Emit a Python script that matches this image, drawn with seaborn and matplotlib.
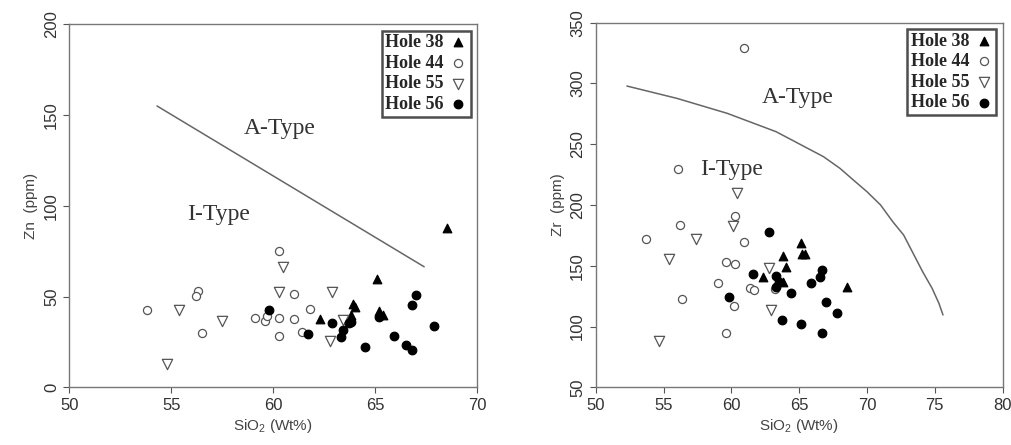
import pandas as pd
import matplotlib.pyplot as plt
import seaborn as sns

# Zn vs SiO2 (left) data
h38_si_zn = [62.3, 63.8, 63.9, 64.0, 65.1, 65.2, 65.4, 68.5]
h38_zn = [37.8, 40.0, 46.0, 44.0, 59.5, 42.0, 40.0, 87.6]
h44_si_zn = [53.8, 56.3, 56.2, 56.5, 59.1, 59.6, 59.7, 60.3, 60.3, 61.0, 61.0, 61.8, 60.3, 61.4]
h44_zn = [42.4, 53.2, 50.1, 30.1, 38.3, 36.7, 39.5, 75.1, 38.3, 51.2, 37.5, 43.3, 28.3, 30.3]
h55_si_zn = [54.8, 55.4, 57.5, 60.5, 60.3, 62.9, 62.8, 63.4]
h55_zn = [12.8, 42.6, 36.5, 66.4, 52.7, 52.7, 25.5, 37.1]
h56_si_zn = [59.8, 61.7, 62.9, 63.4, 63.3, 63.8, 64.5, 65.2, 65.9, 66.5, 66.8, 66.8, 67.0, 67.9, 63.7]
h56_zn = [42.4, 29.2, 35.3, 31.6, 27.5, 36.1, 22.4, 38.6, 28.3, 23.3, 20.6, 45.2, 50.9, 33.6, 35.6]

# Zr vs SiO2 (right) data
h38_si_zr = [62.3, 63.8, 63.8, 64.0, 65.1, 65.2, 65.4, 68.5]
h38_zr = [141.0, 158.0, 137.0, 149.0, 169.0, 159.4, 159.4, 132.3]
h44_si_zr = [56.1, 56.2, 53.7, 60.3, 60.9, 59.6, 60.3, 59.0, 61.4, 61.7, 63.2, 56.4, 60.2, 59.6, 60.9]
h44_zr = [229.6, 183.3, 172.0, 190.7, 169.3, 153.3, 151.7, 135.5, 131.7, 129.8, 130.6, 122.6, 116.6, 94.7, 329.4]
h55_si_zr = [54.7, 55.4, 57.4, 60.4, 60.1, 62.8, 62.9]
h55_zr = [88.3, 155.8, 171.7, 210.1, 182.7, 148.1, 113.6]
h56_si_zr = [62.8, 61.6, 59.8, 63.3, 63.5, 63.3, 64.4, 66.7, 66.5, 65.9, 67.0, 67.8, 63.7, 65.1, 66.7]
h56_zr = [177.5, 143.2, 124.5, 141.6, 136.9, 132.8, 127.8, 146.5, 141.0, 136.0, 120.0, 111.1, 105.1, 102.1, 94.9]

# discrimination boundaries
zn_line_x = [54.3, 67.4]
zn_line_y = [155.0, 66.4]
zr_curve_x = [52.3, 56.0, 59.7, 63.3, 66.8, 68.0, 69.0, 70.0, 71.0, 71.9, 72.7, 73.4, 74.1, 74.8, 75.3, 75.6]
zr_curve_y = [297.9, 287.7, 275.4, 260.3, 239.7, 230.2, 220.5, 210.9, 200.0, 186.2, 175.3, 160.2, 145.1, 131.4, 119.1, 109.5]

holes = ['Hole 38', 'Hole 44', 'Hole 55', 'Hole 56']
styles = {
    'Hole 38': dict(marker='^', facecolor='black', edgecolor='black', s=38),
    'Hole 44': dict(marker='o', facecolor='white', edgecolor='#555555', s=34),
    'Hole 55': dict(marker='v', facecolor='white', edgecolor='#555555', s=55),
    'Hole 56': dict(marker='o', facecolor='black', edgecolor='black', s=38),
}

zn_df = pd.concat([
    pd.DataFrame({'SiO2': h38_si_zn, 'val': h38_zn, 'hole': 'Hole 38'}),
    pd.DataFrame({'SiO2': h44_si_zn, 'val': h44_zn, 'hole': 'Hole 44'}),
    pd.DataFrame({'SiO2': h55_si_zn, 'val': h55_zn, 'hole': 'Hole 55'}),
    pd.DataFrame({'SiO2': h56_si_zn, 'val': h56_zn, 'hole': 'Hole 56'}),
], ignore_index=True)
zr_df = pd.concat([
    pd.DataFrame({'SiO2': h38_si_zr, 'val': h38_zr, 'hole': 'Hole 38'}),
    pd.DataFrame({'SiO2': h44_si_zr, 'val': h44_zr, 'hole': 'Hole 44'}),
    pd.DataFrame({'SiO2': h55_si_zr, 'val': h55_zr, 'hole': 'Hole 55'}),
    pd.DataFrame({'SiO2': h56_si_zr, 'val': h56_zr, 'hole': 'Hole 56'}),
], ignore_index=True)

sns.set_style('white')
plt.rcParams['font.family'] = ['Liberation Sans', 'DejaVu Sans']
plt.rcParams['mathtext.fontset'] = 'custom'
plt.rcParams['mathtext.rm'] = 'Liberation Sans'

fig = plt.figure(figsize=(10.12, 4.45), dpi=100)
ax1 = fig.add_axes([0.0685, 0.1297, 0.403, 0.8157])
ax2 = fig.add_axes([0.5886, 0.1297, 0.4022, 0.8193])

serif = ['Liberation Serif', 'DejaVu Serif']


def draw(ax, df, lx, ly, ylabel, xlim, ylim, xticks, yticks, a_pos, i_pos):
    sns.lineplot(x=lx, y=ly, ax=ax, color='#666666', lw=1.1, sort=False)
    for h in holes:
        sub = df[df['hole'] == h]
        st = styles[h]
        sns.scatterplot(x='SiO2', y='val', data=sub, ax=ax, marker=st['marker'], s=st['s'],
                        facecolor=st['facecolor'], edgecolor=st['edgecolor'], linewidth=0.9,
                        label=h, zorder=3)
    ax.set_xlim(xlim)
    ax.set_ylim(ylim)
    ax.set_xticks(xticks)
    ax.set_yticks(yticks)
    ax.tick_params(axis='both', which='both', direction='out', length=4, width=0.8,
                   colors='#555555', labelcolor='#333333', labelsize=12, bottom=True, left=True)
    for lab in ax.get_yticklabels():
        lab.set_rotation(90)
        lab.set_va('center')
    for sp in ax.spines.values():
        sp.set_color('#777777')
        sp.set_linewidth(1.0)
    ax.set_xlabel('SiO$_2$ (Wt%)', fontsize=11, color='#444444', labelpad=3)
    ax.set_ylabel(ylabel, fontsize=11, color='#444444', labelpad=4)
    ax.text(a_pos[0], a_pos[1], 'A-Type', family=serif, fontsize=17, color='#333333',
            ha='center', va='center')
    ax.text(i_pos[0], i_pos[1], 'I-Type', family=serif, fontsize=17, color='#333333',
            ha='center', va='center')
    leg = ax.legend(loc='upper right', markerfirst=False, frameon=True, fancybox=False,
                    prop={'family': serif, 'weight': 'bold', 'size': 13},
                    handletextpad=0.3, labelspacing=0.2, borderpad=0.2,
                    borderaxespad=0.35, handlelength=1.0)
    leg.get_frame().set_edgecolor('#222222')
    leg.get_frame().set_linewidth(1.8)


draw(ax1, zn_df, zn_line_x, zn_line_y, 'Zn  (ppm)', (50, 70), (0, 200),
     [50, 55, 60, 65, 70], [0, 50, 100, 150, 200], (60.3, 142.7), (57.3, 95.3))
draw(ax2, zr_df, zr_curve_x, zr_curve_y, 'Zr  (ppm)', (50, 80), (50, 350),
     [50, 55, 60, 65, 70, 75, 80], [50, 100, 150, 200, 250, 300, 350], (64.9, 288.2), (60.0, 228.8))

plt.savefig('out.png', dpi=100)
